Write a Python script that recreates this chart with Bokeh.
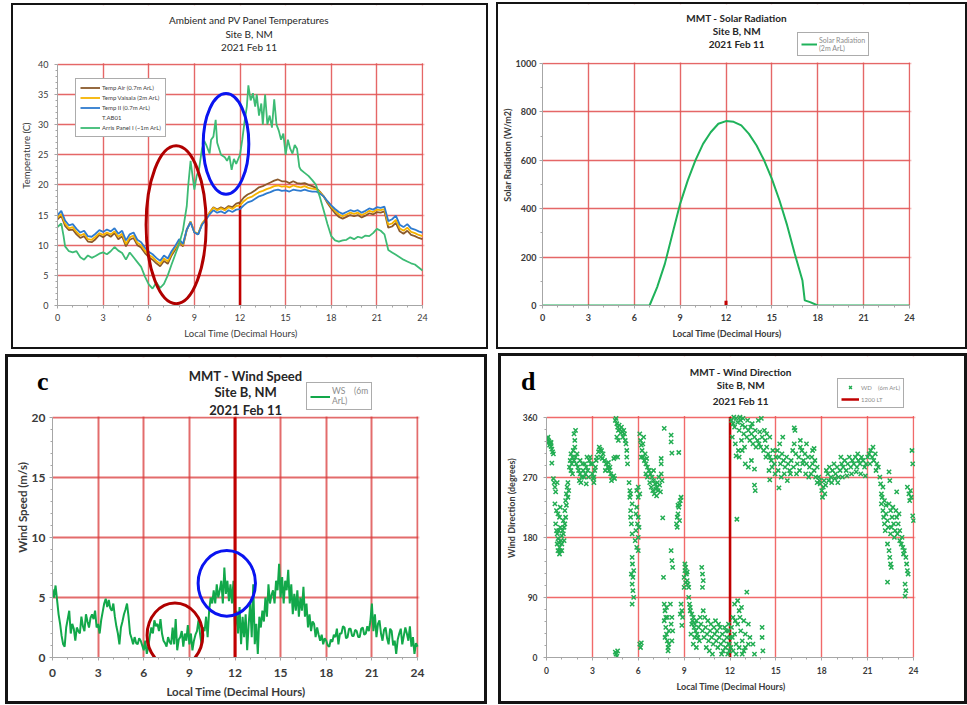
from bokeh.plotting import figure
from bokeh.layouts import row, column
from bokeh.models import Range1d, FixedTicker, Label, Legend, LegendItem, BoxAnnotation, Div
from bokeh.embed import file_html
from bokeh.resources import INLINE

FONT = "Lato"
TXT = "#3a3a3a"
AX = "#a6a6a6"

# ---------------- data ----------------
hour_ticks = [0, 3, 6, 9, 12, 15, 18, 21, 24]
hour_minor = list(range(0, 25))

# Panel a: ambient and PV panel temperatures (0.25 h sampling)
amb_hours = [i * 0.25 for i in range(97)]
temp_vaisala = [14.6, 15.2, 13.6, 12.8, 13.0, 12.2, 11.6, 11.9, 11.0, 10.9,
                11.4, 12.0, 11.7, 12.1, 11.8, 12.3, 11.4, 11.9, 10.2, 11.3,
                11.6, 10.4, 10.0, 9.1, 8.4, 8.0, 7.4, 6.9, 7.8, 7.3,
                8.6, 9.6, 10.8, 10.0, 12.6, 13.9, 12.2, 11.9, 13.6, 14.4,
                15.4, 16.2, 15.8, 16.1, 15.8, 16.3, 16.0, 16.5, 16.6, 17.3,
                17.8, 18.0, 18.4, 18.8, 19.0, 19.3, 19.5, 19.8, 19.9, 19.7,
                19.8, 19.6, 19.9, 19.7, 19.6, 19.8, 19.5, 19.4, 19.3, 18.8,
                18.1, 17.2, 16.4, 15.7, 15.1, 14.8, 15.1, 15.4, 15.2, 15.4,
                15.0, 15.3, 15.7, 15.5, 15.9, 15.8, 16.0, 13.4, 13.6, 14.2,
                12.8, 12.4, 12.9, 12.2, 12.0, 11.7, 11.5]
temp_air = [14.3, 14.9, 13.2, 12.5, 12.6, 11.8, 11.2, 11.5, 10.6, 10.5,
            11.0, 11.7, 11.3, 11.8, 11.4, 12.0, 11.0, 11.5, 9.8, 10.9,
            11.2, 10.0, 9.6, 8.7, 8.0, 7.6, 7.0, 6.5, 7.4, 6.9,
            8.3, 9.3, 10.6, 9.8, 12.5, 13.9, 12.1, 11.8, 13.5, 14.3,
            15.4, 16.3, 15.9, 16.3, 16.0, 16.5, 16.3, 16.9, 17.1, 17.9,
            18.4, 18.7, 19.1, 19.6, 19.8, 20.1, 20.4, 20.7, 20.9, 20.6,
            20.6, 20.3, 20.6, 20.3, 20.2, 20.3, 20.0, 19.8, 19.5, 18.9,
            18.1, 17.0, 16.1, 15.3, 14.7, 14.4, 14.7, 15.0, 14.8, 15.0,
            14.6, 14.9, 15.3, 15.1, 15.5, 15.4, 15.6, 12.9, 13.1, 13.7,
            12.3, 11.9, 12.4, 11.7, 11.5, 11.2, 11.0]
temp_ii = [15.0, 15.7, 14.1, 13.3, 13.5, 12.7, 12.1, 12.4, 11.5, 11.4,
           11.9, 12.5, 12.2, 12.6, 12.3, 12.8, 11.9, 12.4, 10.8, 11.8,
           12.1, 10.9, 10.5, 9.6, 8.9, 8.5, 7.9, 7.4, 8.3, 7.8,
           9.0, 9.9, 11.0, 10.2, 12.6, 13.8, 12.1, 11.8, 13.4, 14.2,
           15.1, 15.8, 15.4, 15.6, 15.3, 15.8, 15.5, 15.9, 16.0, 16.6,
           17.1, 17.3, 17.7, 18.1, 18.3, 18.6, 18.8, 19.1, 19.2, 19.0,
           19.1, 18.9, 19.2, 19.1, 19.0, 19.2, 19.0, 18.9, 18.9, 18.6,
           18.1, 17.3, 16.6, 16.0, 15.5, 15.2, 15.5, 15.8, 15.6, 15.8,
           15.4, 15.7, 16.1, 15.9, 16.3, 16.2, 16.4, 14.0, 14.3, 14.9,
           13.4, 13.0, 13.5, 12.8, 12.6, 12.3, 12.1]
t_ab01_hours = []
t_ab01 = []
panel_hours = [0, 0.25, 0.4, 0.5, 0.75, 1, 1.25, 1.5, 1.75, 2, 2.25, 2.5, 2.75,
               3, 3.25, 3.5, 3.75, 4, 4.25, 4.5, 4.75, 5, 5.25, 5.5, 5.75,
               6, 6.25, 6.5, 6.75, 7, 7.25, 7.5, 7.75, 8, 8.25, 8.5, 8.6, 8.75,
               9, 9.15, 9.3, 9.5, 9.65, 9.8, 10, 10.1, 10.25, 10.4, 10.5, 10.75,
               11, 11.15, 11.3, 11.45, 11.6, 11.75, 12, 12.15, 12.3, 12.45, 12.55, 12.7, 12.85,
               13, 13.1, 13.25, 13.4, 13.5, 13.65, 13.8, 13.95, 14.1, 14.25, 14.4, 14.55, 14.7, 14.85,
               15, 15.15, 15.3, 15.45, 15.6, 15.75, 15.9, 16, 16.25, 16.5, 16.75,
               17, 17.25, 17.5, 17.75, 18, 18.25, 18.5, 18.75, 19, 19.25, 19.5, 19.75,
               20, 20.25, 20.5, 20.75, 21, 21.25, 21.5, 21.75, 22, 22.25, 22.5, 22.75,
               23, 23.25, 23.5, 23.75, 24]
panel_temp = [13.0, 13.6, 11.5, 9.8, 9.0, 8.8, 9.0, 8.0, 7.6, 8.3, 7.9, 8.2, 8.6,
              8.8, 8.5, 9.0, 9.7, 9.1, 8.7, 7.6, 8.8, 8.0, 7.2, 6.4, 4.8,
              3.5, 2.8, 3.8, 2.9, 3.6, 5.0, 6.8, 8.5, 10.2, 12.5, 16.5, 20.0, 24.0,
              19.2, 21.5, 22.5, 26.0, 27.3, 26.5, 25.2, 27.5, 28.0, 30.8, 27.0, 25.0,
              24.6, 24.0, 24.8, 22.5, 24.3, 23.5, 25.0, 27.5, 30.5, 33.0, 36.5, 34.0, 35.2,
              33.0, 35.0, 31.5, 33.5, 30.0, 35.0, 30.0, 31.5, 29.5, 34.2, 30.0, 29.0, 27.5, 28.5,
              25.0, 27.5, 26.0, 25.2, 26.6, 26.0, 23.0, 22.5, 22.0, 21.5, 20.8,
              20.0, 18.0, 15.8, 13.5, 11.5, 10.8, 10.6, 10.8, 10.9, 11.3, 11.0, 11.4,
              11.2, 11.6, 11.5, 12.0, 12.7, 12.4, 11.8, 9.2, 8.8, 8.4, 8.0, 7.6,
              7.3, 7.0, 6.8, 6.3, 5.8]
noon_x = [12, 12]
noon_temp = [0, 17]

# Panel b: solar radiation
sr_hours = [0, 1, 2, 3, 4, 5, 6, 7, 7.5, 8, 8.5, 9, 9.5, 10, 10.5, 11, 11.5, 12,
            12.5, 13, 13.5, 14, 14.5, 15, 15.5, 16, 16.5, 17, 17.15, 17.5, 18,
            19, 20, 21, 22, 23, 24]
sr_vals = [0, 0, 0, 0, 0, 0, 0, 0, 76, 172, 296, 420, 517, 600, 668, 716, 751, 762,
           759, 744, 709, 661, 599, 523, 434, 331, 213, 103, 21, 14, 0,
           0, 0, 0, 0, 0, 0]
noon_sr = [0, 20]

# Panel c: wind speed (0.1 h sampling)
ws_hours = [i / 10 for i in range(241)]
ws_vals = [5.7, 5.0, 6.0, 4.8, 3.6, 2.8, 1.8, 1.1, 0.9, 2.5,
           3.2, 3.9, 2.0, 2.8, 2.4, 1.4, 2.5, 2.2, 2.0, 3.4,
           2.6, 2.2, 3.6, 3.0, 2.5, 3.3, 3.6, 3.2, 3.9, 2.5,
           2.8, 2.0, 3.1, 3.8, 4.5, 4.9, 4.2, 4.8, 4.1, 3.9,
           4.5, 3.4, 2.6, 2.0, 1.1, 2.5, 3.0, 3.6, 4.0, 4.5,
           3.4, 2.0, 1.6, 1.1, 1.7, 1.2, 1.1, 1.6, 1.4, 1.0,
           0.6, 1.4, 0.3, 0.9, 1.8, 2.5, 2.0, 3.1, 2.6, 2.8,
           2.2, 3.2, 2.0, 1.4, 1.2, 0.9, 1.7, 1.3, 1.1, 2.5,
           1.1, 3.2, 0.6, 1.5, 1.7, 2.2, 0.9, 2.0, 1.4, 2.7,
           1.1, 2.0, 0.6, 1.4, 1.9, 2.2, 3.1, 2.0, 1.1, 2.5,
           2.2, 3.4, 1.7, 3.9, 5.0, 4.5, 5.6, 4.5, 6.1, 5.0,
           5.6, 6.4, 4.5, 7.5, 5.3, 6.4, 4.7, 6.1, 4.5, 6.4,
           2.5, 3.9, 2.0, 4.2, 1.1, 3.4, 1.7, 3.6, 0.6, 2.8,
           4.5, 1.7, 6.1, 1.1, 2.8, 0.3, 3.4, 2.5, 3.9, 3.0,
           5.0, 3.4, 6.1, 4.5, 5.2, 5.6, 4.5, 6.4, 5.6, 7.8,
           5.0, 6.7, 4.5, 6.4, 5.6, 7.3, 4.5, 6.1, 3.6, 5.3,
           3.9, 5.6, 3.4, 5.0, 3.9, 5.9, 3.4, 4.5, 2.5, 3.6,
           2.2, 3.0, 2.8, 1.7, 2.5, 1.9, 1.4, 1.9, 1.1, 1.6,
           1.4, 1.0, 0.9, 1.5, 1.3, 1.9, 1.7, 2.4, 1.1, 2.0,
           2.0, 2.6, 2.5, 1.6, 1.7, 2.4, 2.4, 1.8, 1.8, 2.3,
           2.2, 1.7, 1.7, 2.4, 2.5, 1.9, 2.0, 2.6, 2.2, 3.0,
           4.5, 2.2, 3.6, 1.7, 2.8, 3.1, 2.0, 1.4, 2.3, 2.5,
           1.6, 1.1, 2.4, 2.2, 1.0, 1.4, 0.3, 1.5, 2.0, 2.4,
           1.1, 1.8, 2.5, 2.0, 1.4, 2.6, 0.9, 1.7, 0.3, 1.2,
           0.9]
noon_ws = [0, 20]

# Panel d: wind direction observations
wd_hours = [0.05, 0.1, 0.15, 0.2, 0.25, 0.3, 0.35, 0.4, 0.45, 0.1, 0.2, 0.3, 0.35,
            0.45, 0.5, 0.55, 0.6, 0.7, 0.55, 0.65, 0.75, 0.9, 0.85,
            0.6, 0.65, 0.7, 0.75, 0.8, 0.85, 0.9, 0.95, 1.0, 1.05, 1.1, 1.15, 1.2, 1.25, 0.7, 0.8, 0.9, 1.0, 1.1, 1.2, 0.75, 0.85, 1.0, 1.15,
            1.25, 1.3, 1.35, 1.4, 1.45, 1.3, 1.4,
            1.5, 1.55, 1.6, 1.65, 1.7, 1.75, 1.8, 1.85, 1.9, 1.95, 2.0, 1.8, 1.85, 1.9, 1.6, 1.7,
            2.05, 2.1, 2.2, 2.3, 2.4, 2.5, 2.6, 2.7, 2.8, 2.85, 2.9, 2.15, 2.25, 2.35, 2.45, 2.55, 2.65, 2.75, 2.2, 2.6,
            3.0, 3.05, 3.1, 3.15, 3.2, 3.0, 3.1, 3.25,
            3.3, 3.4, 3.5, 3.6, 3.7, 3.45, 3.55, 3.65,
            3.8, 3.9, 4.0, 4.1, 4.2, 4.3, 4.4, 3.85, 4.05, 4.25, 4.15, 4.45,
            4.4, 4.5, 4.55, 4.6, 4.65, 4.7, 4.75, 4.8, 4.85, 4.9, 4.95, 5.0, 5.05, 5.1, 5.15, 5.2, 5.25, 4.6, 4.7, 4.5, 4.65,
            4.5, 4.55, 4.6, 4.65,
            5.25, 5.3, 5.4, 5.45, 5.45, 5.5, 5.5, 5.55, 5.6, 5.5, 5.6,
            5.6, 5.62, 5.65, 5.6, 5.65, 5.7, 5.6, 5.7, 5.55,
            5.8, 5.9, 6.0, 5.85, 5.95, 6.0, 5.85, 5.9, 6.0, 6.05, 5.9, 6.0, 6.0, 6.1,
            6.1, 6.15, 6.2,
            6.1, 6.15, 6.2, 6.25, 6.3, 6.35, 6.2,
            6.3, 6.4, 6.5, 6.6, 6.7, 6.8, 6.9, 7.0, 7.1, 7.2, 7.3, 7.4, 6.5, 6.6, 6.75, 6.85, 6.95, 7.05, 7.15, 7.25, 7.35, 7.45, 6.45, 6.55, 7.0, 7.2,
            7.5, 7.5, 7.5, 7.55, 7.6, 7.7, 7.65,
            7.7, 7.75, 7.8, 7.8, 7.85, 7.9, 7.95, 7.75, 7.7, 7.85, 7.9, 8.0, 8.0, 7.95, 8.1, 8.2, 8.25, 8.15, 8.2,
            8.15, 8.15, 8.2, 8.65, 8.15, 8.2, 8.25,
            8.5, 8.55, 8.6, 8.65, 8.7, 8.75, 8.8, 8.55, 8.7, 8.6,
            8.8, 8.85, 8.9, 8.75, 8.85,
            9.0, 9.05, 9.1, 9.15, 9.2, 9.25, 9.3, 9.0, 9.1, 9.2, 9.05, 9.3, 9.35, 9.4,
            9.4, 9.5, 9.55, 9.6, 9.65, 9.7, 9.75, 9.8, 9.85, 9.9, 9.95, 10.0, 9.45, 9.6, 9.7, 9.8, 10.05, 9.5,
            10.15, 10.2, 10.25, 10.2,
            10.1, 10.2, 10.3, 10.4, 10.5, 10.6, 10.7, 10.8, 10.9, 11.0, 11.1, 11.2, 11.3, 11.4, 11.5, 11.6, 11.7, 11.8, 11.9,
            10.35, 10.55, 10.75, 10.95, 11.15, 11.35, 11.55, 11.75, 11.95, 10.45, 10.65, 10.85, 11.05, 11.25, 11.45, 11.65, 11.85, 10.25,
            11.9, 12.0, 11.95, 12.05, 11.9, 12.1, 12.2, 12.3, 12.4, 12.5, 12.6, 12.7, 12.8, 12.9, 13.0, 12.2, 12.4, 12.6, 12.8,
            13.0, 13.2, 13.3, 13.5, 13.6, 12.3, 12.5, 12.75, 14.1, 14.1, 14.15, 13.2, 12.15, 12.35, 12.65, 12.9, 13.1, 12.45,
            12.1, 12.2, 12.3, 12.4, 12.5, 12.6, 12.7, 12.8, 12.9, 13.0, 13.1, 13.2, 13.3, 13.4, 13.5, 13.6, 13.7, 13.8, 13.9,
            14.0, 14.1, 14.2, 12.15, 12.35, 12.55, 12.75, 12.95, 13.15, 13.45, 13.85, 14.05, 12.25, 12.65, 12.85, 13.35, 13.65, 13.95, 14.25,
            12.4, 12.6, 12.8, 13.0, 13.2, 13.4, 13.6, 13.6, 13.65,
            14.3, 14.4, 14.5, 14.6, 14.7, 14.8, 14.9, 15.0, 14.35, 14.55, 14.75, 14.95, 14.4, 14.6, 14.6, 15.2,
            15.1, 15.2, 15.3, 15.4, 15.5, 15.6, 15.7, 15.8, 15.9, 16.0, 16.1, 16.2, 16.3, 16.4, 16.5, 16.6, 16.7, 16.8, 16.9,
            17.0, 17.1, 17.2, 17.3, 17.4, 17.5, 17.6, 17.7, 15.15, 15.35, 15.55, 15.75, 15.95, 16.15, 16.35, 16.55, 16.75, 16.95,
            17.15, 17.35, 17.55, 16.25, 16.6, 17.0, 17.4, 15.25, 15.45, 16.2, 17.5,
            17.8, 17.9, 18.0, 18.05, 18.1, 18.2, 17.85, 18.15, 18.25, 17.7,
            18.3, 18.4, 18.5, 18.6, 18.7, 18.8, 18.9, 19.0, 19.1, 18.45, 18.65, 18.85, 19.05,
            19.2, 19.3, 19.4, 19.5, 19.6, 19.7, 19.8, 19.9, 20.0, 20.1, 20.2, 20.3, 20.4, 20.5, 20.6, 20.7, 20.8, 20.9,
            19.35, 19.65, 19.95, 20.25, 20.55, 20.85, 19.25, 20.35,
            21.0, 21.1, 21.2, 21.3, 21.4, 21.5, 21.6, 21.7, 21.15, 21.35, 21.55,
            21.8, 21.85, 21.9, 22.0, 22.1, 22.2, 22.4, 22.45, 21.9, 22.0, 22.05, 22.1, 22.15, 22.2, 22.3, 22.35, 21.95,
            22.4, 22.5, 22.6, 22.7, 22.8, 22.9, 23.0, 22.55, 22.75, 22.95, 23.05, 22.65, 22.85, 22.5, 23.1, 22.9,
            22.3, 22.4, 22.45, 22.5, 22.55, 22.3, 23.1, 23.2, 23.3, 23.4, 23.25, 23.35, 23.5, 23.55, 23.6, 23.65, 23.45, 23.5, 23.45,
            23.6, 23.7, 23.75, 23.8, 23.85, 23.9, 23.95, 23.95, 24.0]
wd_deg = [328, 326, 324, 322, 320, 316, 312, 308, 305, 330, 318, 322, 291,
          268, 262, 255, 248, 262, 230, 220, 215, 225, 210,
          200, 190, 185, 178, 172, 165, 160, 175, 182, 190, 185, 195, 200, 210, 170, 190, 195, 170, 205, 220, 160, 155, 160, 175,
          235, 245, 255, 262, 250, 228, 240,
          285, 295, 305, 290, 300, 310, 295, 315, 300, 290, 305, 335, 325, 340, 280, 275,
          285, 280, 275, 270, 280, 290, 285, 280, 295, 300, 290, 265, 262, 290, 270, 275, 300, 270, 295, 260,
          275, 268, 270, 280, 285, 290, 262, 295,
          300, 308, 312, 310, 305, 315, 300, 298,
          295, 290, 285, 280, 275, 270, 272, 280, 292, 265, 285, 268,
          298, 355, 358, 350, 345, 340, 348, 342, 336, 345, 338, 330, 340, 335, 325, 320, 310, 330, 325, 300, 300,
          8, 5, 2, 10,
          300, 290, 262, 250, 240, 220, 210, 200, 185, 245, 230,
          150, 140, 120, 110, 100, 90, 80, 130, 125,
          175, 165, 160, 190, 200, 180, 215, 225, 210, 195, 250, 240, 255, 245,
          20, 15, 22,
          335, 325, 318, 310, 320, 330, 300,
          300, 295, 290, 285, 280, 275, 270, 265, 260, 255, 250, 258, 275, 270, 262, 255, 250, 245, 252, 262, 270, 248, 305, 298, 280, 242,
          298, 290, 275, 265, 209, 343, 120,
          80, 70, 60, 45, 35, 25, 15, 30, 55, 75, 60, 40, 20, 10, 80, 60, 40, 50, 25,
          333, 323, 306, 307, 160, 145, 135,
          200, 210, 215, 225, 230, 235, 240, 195, 205, 228,
          80, 70, 60, 65, 48,
          120, 130, 135, 125, 115, 110, 105, 105, 112, 128, 140, 90, 80, 75,
          70, 65, 55, 60, 45, 50, 40, 55, 35, 30, 45, 25, 35, 20, 30, 15, 60, 50,
          135, 125, 115, 105,
          50, 40, 30, 45, 35, 25, 40, 30, 20, 35, 25, 15, 30, 20, 35, 25, 15, 30, 20,
          60, 55, 50, 45, 40, 45, 10, 40, 10, 15, 10, 5, 55, 50, 5, 45, 5, 70,
          40, 30, 20, 15, 50, 45, 60, 35, 20, 50, 70, 40, 25, 55, 15, 10, 5, 15, 5,
          35, 50, 30, 20, 5, 80, 85, 75, 45, 30, 10, 20, 30, 55, 60, 10, 98, 207,
          355, 350, 345, 358, 352, 340, 355, 348, 335, 345, 330, 340, 325, 335, 320, 330, 315, 325, 320,
          315, 330, 310, 330, 320, 310, 325, 315, 355, 350, 355, 358, 360, 360, 358, 345, 340, 338, 340,
          302, 300, 310, 290, 285, 295, 282, 258, 250,
          325, 315, 305, 300, 295, 310, 290, 300, 300, 280, 285, 275, 335, 330, 266, 254,
          310, 300, 290, 305, 295, 285, 300, 290, 280, 295, 310, 320, 305, 290, 300, 315, 310, 295, 305,
          290, 300, 285, 275, 290, 280, 270, 285, 280, 270, 275, 265, 275, 285, 275, 280, 290, 275,
          270, 300, 295, 340, 325, 320, 310, 320, 330, 344, 313,
          270, 260, 250, 240, 255, 245, 265, 265, 258, 262,
          280, 275, 285, 270, 280, 290, 275, 285, 270, 265, 262, 268, 262,
          280, 290, 285, 295, 280, 290, 300, 285, 295, 290, 300, 285, 295, 290, 300, 295, 285, 290,
          270, 272, 275, 278, 275, 272, 300, 305,
          300, 305, 310, 300, 295, 305, 290, 285, 290, 315, 280,
          270, 260, 245, 255, 235, 228, 278, 265, 230, 220, 210, 200, 190, 215, 205, 195, 240,
          230, 220, 210, 200, 190, 210, 200, 195, 180, 185, 215, 225, 220, 185, 190, 248,
          170, 160, 150, 140, 135, 113, 175, 170, 165, 160, 180, 155, 150, 140, 130, 125, 110, 100, 92,
          255, 245, 235, 250, 240, 310, 290, 212, 205]
_n = min(len(wd_hours), len(wd_deg))
wd_hours, wd_deg = wd_hours[:_n], wd_deg[:_n]
noon_wd = [0, 360]

# highlight ellipses (centre hour, centre value, width h, height)
ell_a_red = dict(x=[7.8], y=[13.4], w=3.95, h=26.2)
ell_a_blue = dict(x=[11.08], y=[26.8], w=3.0, h=16.7)
ell_c_red = dict(x=[8.05], y=[1.85], w=3.66, h=5.4)
ell_c_blue = dict(x=[11.46], y=[6.18], w=3.77, h=5.47)


# ---------------- helpers ----------------
def base_fig(W, H, bl, br, bb, fw_real, fh_real, top_val, border, margin):
    """Frame spans from the canvas top; the data area (0..24, 0..top_val)
    occupies fw_real x fh_real px at its bottom-left, the rest hosts titles/legends."""
    fw_total = W - bl - br
    fh_total = H - bb
    x_end = 24 * fw_total / fw_real
    y_end = top_val * fh_total / fh_real
    p = figure(width=W, height=H, x_range=Range1d(0, x_end), y_range=Range1d(0, y_end),
               output_backend="svg", toolbar_location=None,
               min_border_left=bl, min_border_right=br,
               min_border_top=0, min_border_bottom=bb,
               outline_line_color=None, background_fill_color="white",
               border_fill_color="white")
    p.styles = {"border": f"{border}px solid #141414"}
    p.margin = margin
    ex = 24 * 1.0 / fw_real       # ~1 px in data units
    ey = top_val * 1.0 / fh_real
    p.add_layout(BoxAnnotation(bottom=top_val + ey, fill_color="white", fill_alpha=1,
                               line_color=None, level="underlay"))
    p.add_layout(BoxAnnotation(left=24 + ex, fill_color="white", fill_alpha=1,
                               line_color=None, level="underlay"))
    return p


def style(p, top_val, yticks, yminor, grid_col, grid_w, grid_alpha, tick_px, bold, lab_px,
          xlabel, ylabel, x_std, y_std, xl_std, yl_std):
    p.xaxis.ticker = FixedTicker(ticks=hour_ticks, minor_ticks=hour_minor)
    p.yaxis.ticker = FixedTicker(ticks=yticks, minor_ticks=yminor)
    p.xaxis.bounds = (0, 24)
    p.yaxis.bounds = (0, top_val)
    p.xaxis.axis_label = xlabel
    p.yaxis.axis_label = ylabel
    fs = "bold" if bold else "normal"
    for ax in p.axis:
        ax.axis_line_color = AX
        ax.axis_line_width = 1
        ax.major_tick_line_color = AX
        ax.minor_tick_line_color = AX
        ax.major_tick_out = 3
        ax.major_tick_in = 0
        ax.minor_tick_out = 2
        ax.minor_tick_in = 0
        ax.major_label_text_font = FONT
        ax.major_label_text_font_size = tick_px
        ax.major_label_text_font_style = fs
        ax.major_label_text_color = TXT
        ax.axis_label_text_font = FONT
        ax.axis_label_text_font_size = lab_px
        ax.axis_label_text_font_style = fs
        ax.axis_label_text_color = TXT
    p.xaxis.major_label_standoff = x_std
    p.yaxis.major_label_standoff = y_std
    p.xaxis.axis_label_standoff = xl_std
    p.yaxis.axis_label_standoff = yl_std
    for g in (p.xgrid, p.ygrid):
        g.grid_line_color = grid_col
        g.grid_line_width = grid_w
        g.grid_line_alpha = grid_alpha
        g.level = "image"


def titles(p, x, ys, lines, size, bold):
    for y, t in zip(ys, lines):
        p.add_layout(Label(x=x, y=y, text=t, text_align="center",
                           text_baseline="middle", text_font=FONT,
                           text_font_size=size,
                           text_font_style="bold" if bold else "normal",
                           text_color="#262626"))


def legend(p, items, loc, fsize, gw, lh, pad, spacing, color):
    leg = Legend(items=items, location=loc, margin=0, padding=pad,
                 spacing=spacing, glyph_width=gw, glyph_height=lh,
                 label_height=lh, label_standoff=2,
                 label_text_font=FONT, label_text_font_size=fsize,
                 label_text_color=color, border_line_color="#5a5a5a",
                 border_line_width=1.5, background_fill_color="white",
                 background_fill_alpha=1)
    p.add_layout(leg, "center")


SUB = ["Site B, NM", "2021 Feb 11"]

# ---------------- panel a ----------------
pa = base_fig(477, 346, 44, 66, 45, 365, 242, 40, 2, (3, 0, 0, 11))
style(pa, 40, [0, 5, 10, 15, 20, 25, 30, 35, 40], list(range(0, 41)), "#e25656", 1.4, 0.9,
      "9px", False, "9.5px", "Local Time (Decimal Hours)", "Temperature (C)", 5, 6, 4, 3)
r_red = pa.line(t_ab01_hours, t_ab01, line_color="#e86a6a", line_width=2.5)
pa.line(noon_x, noon_temp, line_color="#c00000", line_width=2.5)
r_brown = pa.line(amb_hours, temp_air, line_color="#8b5a2b", line_width=1.8)
r_yel = pa.line(amb_hours, temp_vaisala, line_color="#f5b400", line_width=1.8)
r_blue = pa.line(amb_hours, temp_ii, line_color="#2e7bcf", line_width=1.8)
r_green = pa.line(panel_hours, panel_temp, line_color="#3dbb74", line_width=1.8)
pa.ellipse(x=ell_a_red["x"], y=ell_a_red["y"], width=ell_a_red["w"], height=ell_a_red["h"],
           fill_color=None, line_color="#b00000", line_width=3)
pa.ellipse(x=ell_a_blue["x"], y=ell_a_blue["y"], width=ell_a_blue["w"], height=ell_a_blue["h"],
           fill_color=None, line_color="#0a14f0", line_width=3)
titles(pa, 12.6, [47.4, 45.1, 42.8], ["Ambient and PV Panel Temperatures"] + SUB, "10px", False)
legend(pa, [LegendItem(label="Temp Air (0.7m ArL)", renderers=[r_brown]),
            LegendItem(label="Temp Vaisala (2m ArL)", renderers=[r_yel]),
            LegendItem(label="Temp II (0.7m ArL)", renderers=[r_blue]),
            LegendItem(label="T.AB01", renderers=[r_red]),
            LegendItem(label="Arris Panel I (~1m ArL)", renderers=[r_green])],
       (18, 168), "6px", 20, 9, 4, 1, "#404040")

# ---------------- panel b ----------------
pb = base_fig(471, 347, 44, 58, 46, 367, 242, 1000, 2, (2, 0, 0, 8))
style(pb, 1000, [0, 200, 400, 600, 800, 1000], list(range(0, 1001, 100)), "#e25656", 1.4, 0.9,
      "9px", True, "9px", "Local Time (Decimal Hours)", "Solar Radiation (W/m2)", 5, 3, 4, 0)
r_sr = pb.line(sr_hours, sr_vals, line_color="#1fb25a", line_width=2)
pb.line(noon_x, noon_sr, line_color="#c00000", line_width=3)
titles(pb, 12.7, [1186, 1136, 1079], ["MMT - Solar Radiation"] + SUB, "10px", True)
legend(pb, [LegendItem(label="Solar Radiation\n(2m ArL)", renderers=[r_sr])],
       (255, 249), "7px", 16, 10, 3, 0, "#8c8c8c")

# ---------------- panel c ----------------
pc = base_fig(482, 350, 44, 71, 50, 365, 240, 20, 3, (5, 0, 0, 5))
style(pc, 20, [0, 5, 10, 15, 20], list(range(0, 21)), "#d93b3b", 2, 0.75,
      "12px", True, "11.5px", "Local Time (Decimal Hours)", "Wind Speed (m/s)", 8, 4, 5, 0)
r_ws = pc.line(ws_hours, ws_vals, line_color="#12a84a", line_width=2)
pc.line(noon_x, noon_ws, line_color="#c00000", line_width=3)
pc.ellipse(x=ell_c_red["x"], y=ell_c_red["y"], width=ell_c_red["w"], height=ell_c_red["h"],
           fill_color=None, line_color="#b00000", line_width=3)
pc.ellipse(x=ell_c_blue["x"], y=ell_c_blue["y"], width=ell_c_blue["w"], height=ell_c_blue["h"],
           fill_color=None, line_color="#0a14f0", line_width=3)
titles(pc, 12.7, [23.5, 22.1, 20.6], ["MMT - Wind Speed"] + SUB, "13px", True)
legend(pc, [LegendItem(label="WS    (6m\nArL)", renderers=[r_ws])],
       (254, 247), "8.5px", 20, 11, 3, 0, "#8c8c8c")

# ---------------- panel d ----------------
pd = base_fig(469, 351, 45, 55, 48, 367, 242, 360, 3, (4, 0, 0, 11))
style(pd, 360, [0, 90, 180, 270, 360], list(range(0, 361, 18)), "#f05a5a", 1.4, 0.9,
      "8.5px", True, "9px", "Local Time (Decimal Hours)", "Wind  Direction (degrees)", 6, 6, 4, 3)
r_noon = pd.line(noon_x, noon_wd, line_color="#c00000", line_width=2.5)
r_wd = pd.scatter(wd_hours, wd_deg, marker="x", size=6, line_color="#22ad52", line_width=1.5)
titles(pd, 12.7, [427, 408, 384], ["MMT - Wind Direction"] + SUB, "10px", True)
legend(pd, [LegendItem(label="WD    (6m ArL)", renderers=[r_wd]),
            LegendItem(label="1200 LT", renderers=[r_noon])],
       (291, 249), "6px", 18, 10, 3, 2, "#8c8c8c")

# panel letters
LETTER = {"position": "absolute", "font-family": "Liberation Serif", "font-size": "26px",
          "font-weight": "bold", "color": "black", "line-height": "26px", "z-index": "10"}
div_c = Div(text="c", width=20, height=28, styles=dict(LETTER, left="32px", top="364px"))
div_d = Div(text="d", width=20, height=28, styles=dict(LETTER, left="516px", top="364px"))

layout = column(row(pa, pb), row(pc, pd), div_c, div_d)
open("out.html", "w").write(file_html(layout, INLINE))
